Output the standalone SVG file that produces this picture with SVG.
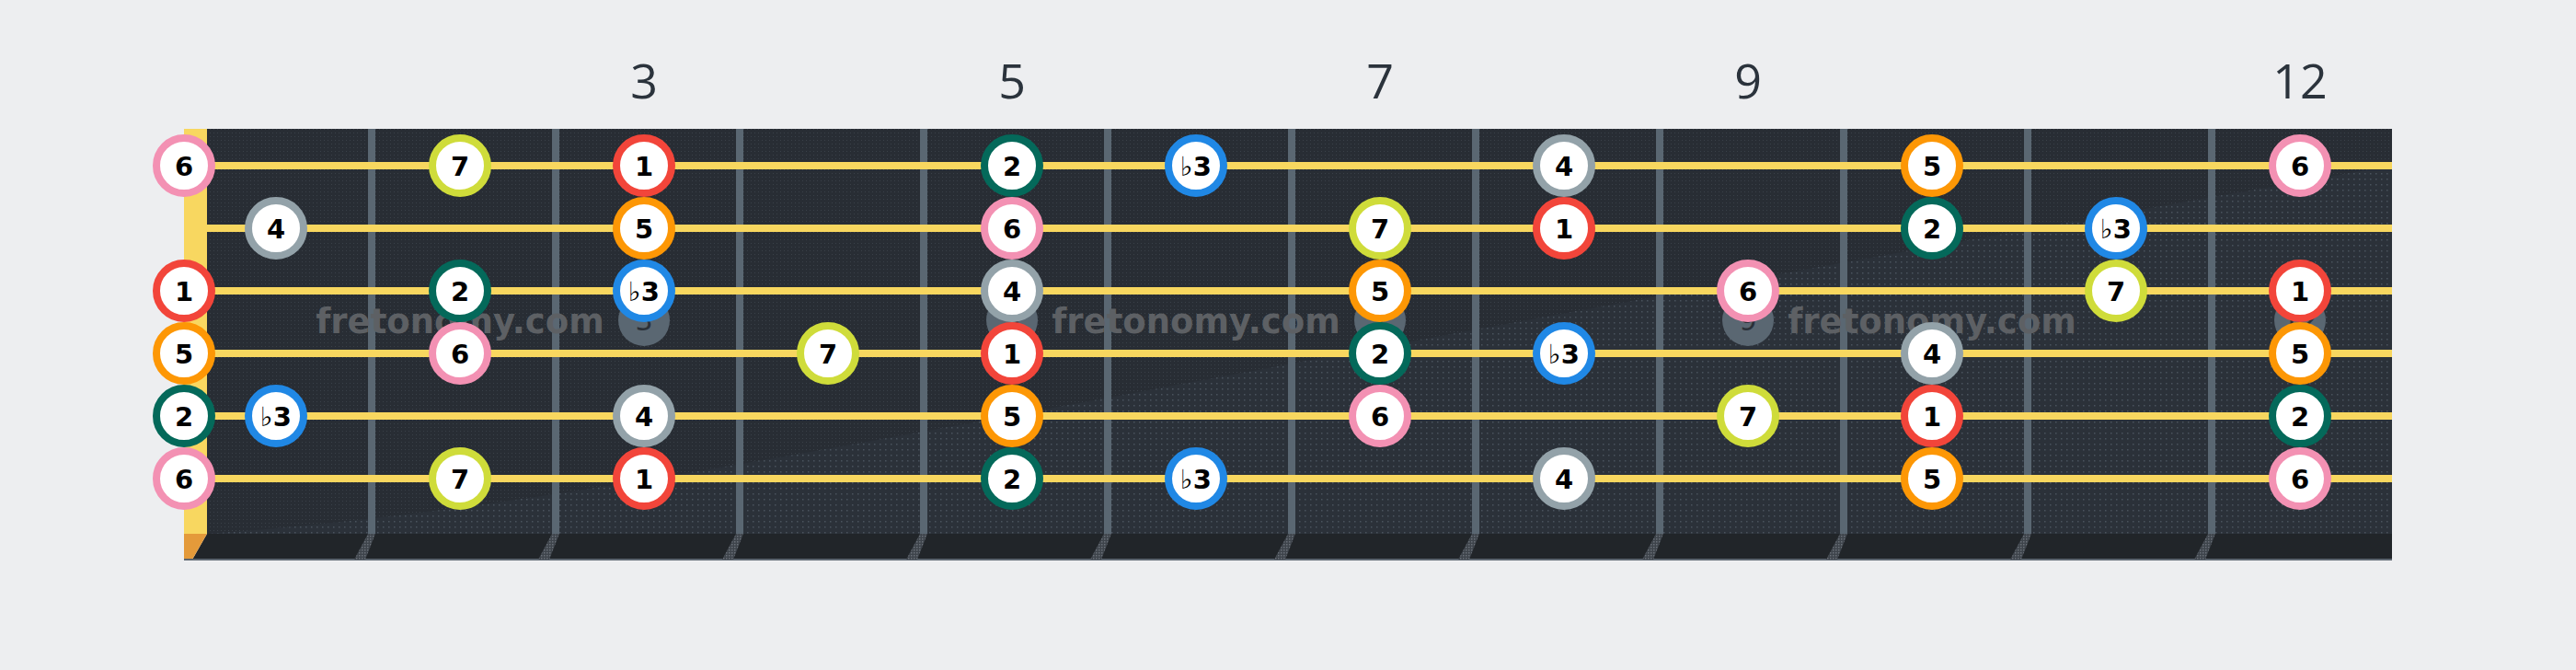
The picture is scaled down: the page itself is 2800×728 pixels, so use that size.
<svg xmlns="http://www.w3.org/2000/svg" width="2800" height="728" viewBox="0 0 2800 728">
<defs>
<pattern id="dots" width="4" height="4" patternUnits="userSpaceOnUse"><rect x="0" y="0" width="1" height="1" fill="#3a4149"/></pattern>
<pattern id="dots2" width="6" height="6" patternUnits="userSpaceOnUse"><rect x="2" y="2" width="1.5" height="1.5" fill="#4a535d"/></pattern>
<pattern id="hatch" width="3" height="3" patternUnits="userSpaceOnUse"><rect width="3" height="3" fill="#3e444b"/><rect width="1.5" height="1.5" fill="#6a7078"/></pattern>
</defs>
<style>
.note circle{fill:#ffffff;stroke-width:8}
.note text{font-family:"DejaVu Sans",sans-serif;font-weight:bold;font-size:29px;text-anchor:middle;fill:#000000}
.d1 circle{stroke:#f2453a}
.d2 circle{stroke:#04695a}
.db3 circle{stroke:#2088e5}
.d4 circle{stroke:#93a2a9}
.d5 circle{stroke:#fd9705}
.d6 circle{stroke:#f391b3}
.d7 circle{stroke:#cfdc3a}
.fret{fill:#5a6772}
.str{fill:#f8d75f}
.fnum{font-family:"Open Sans","Noto Sans",sans-serif;font-weight:400;font-size:52px;text-anchor:middle;fill:#2b333c}
.inlay circle{fill:#5a6772}
.inlay text{font-family:"DejaVu Sans",sans-serif;font-size:30px;text-anchor:middle;fill:#2a3038}
.wm{font-family:"DejaVu Sans",sans-serif;font-weight:bold;font-size:37px;text-anchor:middle;fill:#5d6064}
.bevel{fill:url(#hatch)}
</style>
<rect width="2800" height="728" fill="#edeef0"/>
<g id="fret-numbers">
<text class="fnum" x="700" y="107">3</text>
<text class="fnum" x="1100" y="107">5</text>
<text class="fnum" x="1500" y="107">7</text>
<text class="fnum" x="1900" y="107">9</text>
<text class="fnum" x="2500" y="107">12</text>
</g>
<g id="fretboard">
<rect x="200" y="140" width="2400" height="440" fill="#282d34"/>
<rect x="200" y="140" width="2400" height="440" fill="url(#dots)"/>
<path d="M225,580 C700,545 1100,440 2600,180 L2600,580 Z" fill="#2b3139"/>
<path d="M225,580 C700,545 1100,440 2600,180 L2600,580 Z" fill="url(#dots2)"/>
<polygon points="225,580 2600,580 2600,608 209,608" fill="#212529"/>
<polygon points="200,580 225,580 209,608 200,608" fill="#e49a3a"/>
<rect x="200" y="607" width="2400" height="2" fill="#5d6670"/>
<g id="bevels">
<polygon class="bevel" points="400,580 408,580 397,608 385,608"/>
<polygon class="bevel" points="600,580 608,580 597,608 585,608"/>
<polygon class="bevel" points="800,580 808,580 797,608 785,608"/>
<polygon class="bevel" points="1000,580 1008,580 997,608 985,608"/>
<polygon class="bevel" points="1200,580 1208,580 1197,608 1185,608"/>
<polygon class="bevel" points="1400,580 1408,580 1397,608 1385,608"/>
<polygon class="bevel" points="1600,580 1608,580 1597,608 1585,608"/>
<polygon class="bevel" points="1800,580 1808,580 1797,608 1785,608"/>
<polygon class="bevel" points="2000,580 2008,580 1997,608 1985,608"/>
<polygon class="bevel" points="2200,580 2208,580 2197,608 2185,608"/>
<polygon class="bevel" points="2400,580 2408,580 2397,608 2385,608"/>
</g>
<g id="frets">
<rect class="fret" x="400" y="140" width="8" height="440"/>
<rect class="fret" x="600" y="140" width="8" height="440"/>
<rect class="fret" x="800" y="140" width="8" height="440"/>
<rect class="fret" x="1000" y="140" width="8" height="440"/>
<rect class="fret" x="1200" y="140" width="8" height="440"/>
<rect class="fret" x="1400" y="140" width="8" height="440"/>
<rect class="fret" x="1600" y="140" width="8" height="440"/>
<rect class="fret" x="1800" y="140" width="8" height="440"/>
<rect class="fret" x="2000" y="140" width="8" height="440"/>
<rect class="fret" x="2200" y="140" width="8" height="440"/>
<rect class="fret" x="2400" y="140" width="8" height="440"/>
</g>
<rect id="nut" x="200" y="140" width="25" height="440" fill="#f8d760"/>
</g>
<g id="inlays">
<g class="inlay"><circle cx="700" cy="348" r="28"/><text x="700" y="359">3</text></g>
<g class="inlay"><circle cx="1100" cy="348" r="28"/><text x="1100" y="359">5</text></g>
<g class="inlay"><circle cx="1500" cy="348" r="28"/><text x="1500" y="359">7</text></g>
<g class="inlay"><circle cx="1900" cy="348" r="28"/><text x="1900" y="359">9</text></g>
<g class="inlay"><circle cx="2500" cy="348" r="28"/><text x="2500" y="359">12</text></g>
</g>
<g id="watermarks">
<text class="wm" x="500" y="362">fretonomy.com</text>
<text class="wm" x="1300" y="362">fretonomy.com</text>
<text class="wm" x="2100" y="362">fretonomy.com</text>
</g>
<g id="strings">
<rect class="str" x="225" y="176" width="2375" height="8"/>
<rect class="str" x="225" y="244" width="2375" height="8"/>
<rect class="str" x="225" y="312" width="2375" height="8"/>
<rect class="str" x="225" y="380" width="2375" height="8"/>
<rect class="str" x="225" y="448" width="2375" height="8"/>
<rect class="str" x="225" y="516" width="2375" height="8"/>
</g>
<g id="notes">
<g id="s1f0" class="note d6" transform="translate(200,180)"><circle r="30"/><text y="10.5">6</text></g>
<g id="s1f2" class="note d7" transform="translate(500,180)"><circle r="30"/><text y="10.5">7</text></g>
<g id="s1f3" class="note d1" transform="translate(700,180)"><circle r="30"/><text y="10.5">1</text></g>
<g id="s1f5" class="note d2" transform="translate(1100,180)"><circle r="30"/><text y="10.5">2</text></g>
<g id="s1f6" class="note db3" transform="translate(1300,180)"><circle r="30"/><text y="10.5">♭3</text></g>
<g id="s1f8" class="note d4" transform="translate(1700,180)"><circle r="30"/><text y="10.5">4</text></g>
<g id="s1f10" class="note d5" transform="translate(2100,180)"><circle r="30"/><text y="10.5">5</text></g>
<g id="s1f12" class="note d6" transform="translate(2500,180)"><circle r="30"/><text y="10.5">6</text></g>

<g id="s2f1" class="note d4" transform="translate(300,248)"><circle r="30"/><text y="10.5">4</text></g>
<g id="s2f3" class="note d5" transform="translate(700,248)"><circle r="30"/><text y="10.5">5</text></g>
<g id="s2f5" class="note d6" transform="translate(1100,248)"><circle r="30"/><text y="10.5">6</text></g>
<g id="s2f7" class="note d7" transform="translate(1500,248)"><circle r="30"/><text y="10.5">7</text></g>
<g id="s2f8" class="note d1" transform="translate(1700,248)"><circle r="30"/><text y="10.5">1</text></g>
<g id="s2f10" class="note d2" transform="translate(2100,248)"><circle r="30"/><text y="10.5">2</text></g>
<g id="s2f11" class="note db3" transform="translate(2300,248)"><circle r="30"/><text y="10.5">♭3</text></g>

<g id="s3f0" class="note d1" transform="translate(200,316)"><circle r="30"/><text y="10.5">1</text></g>
<g id="s3f2" class="note d2" transform="translate(500,316)"><circle r="30"/><text y="10.5">2</text></g>
<g id="s3f3" class="note db3" transform="translate(700,316)"><circle r="30"/><text y="10.5">♭3</text></g>
<g id="s3f5" class="note d4" transform="translate(1100,316)"><circle r="30"/><text y="10.5">4</text></g>
<g id="s3f7" class="note d5" transform="translate(1500,316)"><circle r="30"/><text y="10.5">5</text></g>
<g id="s3f9" class="note d6" transform="translate(1900,316)"><circle r="30"/><text y="10.5">6</text></g>
<g id="s3f11" class="note d7" transform="translate(2300,316)"><circle r="30"/><text y="10.5">7</text></g>
<g id="s3f12" class="note d1" transform="translate(2500,316)"><circle r="30"/><text y="10.5">1</text></g>

<g id="s4f0" class="note d5" transform="translate(200,384)"><circle r="30"/><text y="10.5">5</text></g>
<g id="s4f2" class="note d6" transform="translate(500,384)"><circle r="30"/><text y="10.5">6</text></g>
<g id="s4f4" class="note d7" transform="translate(900,384)"><circle r="30"/><text y="10.5">7</text></g>
<g id="s4f5" class="note d1" transform="translate(1100,384)"><circle r="30"/><text y="10.5">1</text></g>
<g id="s4f7" class="note d2" transform="translate(1500,384)"><circle r="30"/><text y="10.5">2</text></g>
<g id="s4f8" class="note db3" transform="translate(1700,384)"><circle r="30"/><text y="10.5">♭3</text></g>
<g id="s4f10" class="note d4" transform="translate(2100,384)"><circle r="30"/><text y="10.5">4</text></g>
<g id="s4f12" class="note d5" transform="translate(2500,384)"><circle r="30"/><text y="10.5">5</text></g>

<g id="s5f0" class="note d2" transform="translate(200,452)"><circle r="30"/><text y="10.5">2</text></g>
<g id="s5f1" class="note db3" transform="translate(300,452)"><circle r="30"/><text y="10.5">♭3</text></g>
<g id="s5f3" class="note d4" transform="translate(700,452)"><circle r="30"/><text y="10.5">4</text></g>
<g id="s5f5" class="note d5" transform="translate(1100,452)"><circle r="30"/><text y="10.5">5</text></g>
<g id="s5f7" class="note d6" transform="translate(1500,452)"><circle r="30"/><text y="10.5">6</text></g>
<g id="s5f9" class="note d7" transform="translate(1900,452)"><circle r="30"/><text y="10.5">7</text></g>
<g id="s5f10" class="note d1" transform="translate(2100,452)"><circle r="30"/><text y="10.5">1</text></g>
<g id="s5f12" class="note d2" transform="translate(2500,452)"><circle r="30"/><text y="10.5">2</text></g>

<g id="s6f0" class="note d6" transform="translate(200,520)"><circle r="30"/><text y="10.5">6</text></g>
<g id="s6f2" class="note d7" transform="translate(500,520)"><circle r="30"/><text y="10.5">7</text></g>
<g id="s6f3" class="note d1" transform="translate(700,520)"><circle r="30"/><text y="10.5">1</text></g>
<g id="s6f5" class="note d2" transform="translate(1100,520)"><circle r="30"/><text y="10.5">2</text></g>
<g id="s6f6" class="note db3" transform="translate(1300,520)"><circle r="30"/><text y="10.5">♭3</text></g>
<g id="s6f8" class="note d4" transform="translate(1700,520)"><circle r="30"/><text y="10.5">4</text></g>
<g id="s6f10" class="note d5" transform="translate(2100,520)"><circle r="30"/><text y="10.5">5</text></g>
<g id="s6f12" class="note d6" transform="translate(2500,520)"><circle r="30"/><text y="10.5">6</text></g>
</g>
</svg>
